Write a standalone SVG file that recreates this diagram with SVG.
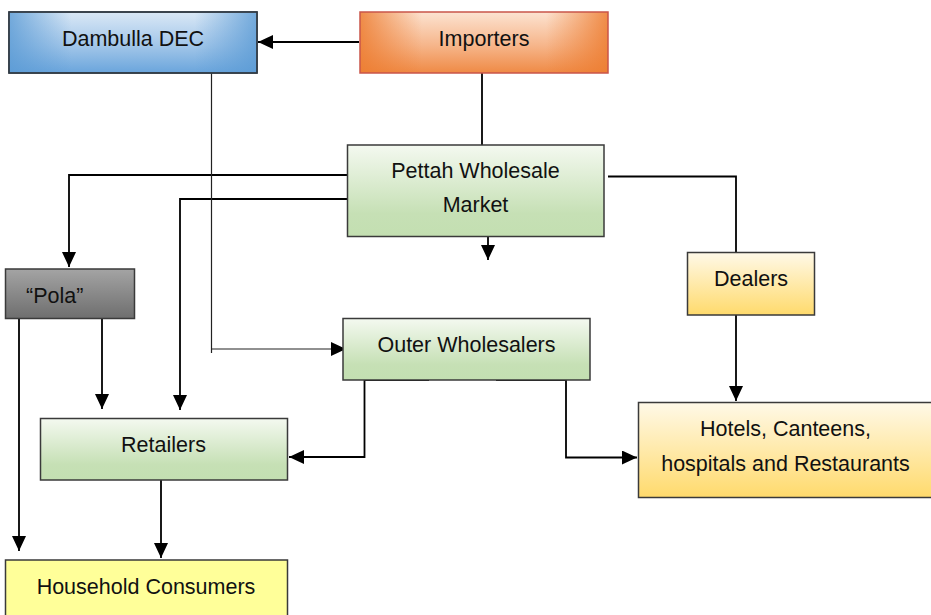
<svg xmlns="http://www.w3.org/2000/svg" width="931" height="615" viewBox="0 0 931 615">
<defs>
<style>
.box{stroke:#3a3a3a;stroke-width:1.5}
.ov{stroke:none}
.lbl{font-family:"Liberation Sans",Arial,sans-serif;font-size:21.5px;fill:#111;text-anchor:middle}
.con{fill:none;stroke:#000;stroke-width:1.8}
.thin{fill:none;stroke:#222;stroke-width:1.2}
</style>
<marker id="ah" markerUnits="userSpaceOnUse" markerWidth="15" markerHeight="14" refX="15" refY="7" orient="auto">
<path d="M0,0 L15,7 L0,14 Z" fill="#000"/>
</marker>
<linearGradient id="blueV" x1="0" y1="0" x2="0" y2="1">
<stop offset="0" stop-color="#dae8f6"/><stop offset="0.55" stop-color="#a2c6e9"/><stop offset="1" stop-color="#6aa5dc"/>
</linearGradient>
<linearGradient id="blueH" x1="0" y1="0" x2="1" y2="0">
<stop offset="0" stop-color="#5b9bd5" stop-opacity="1"/><stop offset="0.25" stop-color="#5b9bd5" stop-opacity="0"/><stop offset="0.75" stop-color="#5b9bd5" stop-opacity="0"/><stop offset="1" stop-color="#5b9bd5" stop-opacity="1"/>
</linearGradient>
<linearGradient id="orV" x1="0" y1="0" x2="0" y2="1">
<stop offset="0" stop-color="#fce3d1"/><stop offset="0.55" stop-color="#f6b58a"/><stop offset="1" stop-color="#ef8a45"/>
</linearGradient>
<linearGradient id="orH" x1="0" y1="0" x2="1" y2="0">
<stop offset="0" stop-color="#ed7d31" stop-opacity="1"/><stop offset="0.25" stop-color="#ed7d31" stop-opacity="0"/><stop offset="0.75" stop-color="#ed7d31" stop-opacity="0"/><stop offset="1" stop-color="#ed7d31" stop-opacity="1"/>
</linearGradient>
<linearGradient id="grn" x1="0" y1="0" x2="0" y2="1">
<stop offset="0" stop-color="#f4f9f0"/><stop offset="0.75" stop-color="#c6e0b5"/><stop offset="1" stop-color="#c3dfb1"/>
</linearGradient>
<linearGradient id="yel" x1="0" y1="0" x2="0" y2="1">
<stop offset="0" stop-color="#fff9e8"/><stop offset="1" stop-color="#ffda6c"/>
</linearGradient>
<linearGradient id="gry" x1="0" y1="0" x2="0" y2="1">
<stop offset="0" stop-color="#a4a4a4"/><stop offset="1" stop-color="#6e6e6e"/>
</linearGradient>
</defs>
<rect width="931" height="615" fill="#fff"/>

<g id="connectors">
<path class="con" d="M359,42 H258" marker-end="url(#ah)"/>
<path class="con" d="M482,73 V145"/>
<path class="con" d="M347,175 H69 V267" marker-end="url(#ah)"/>
<path class="con" d="M347,199 H180 V410" marker-end="url(#ah)"/>
<path class="con" d="M488,237 V260" marker-end="url(#ah)"/>
<path class="con" d="M608,176.5 H736 V252"/>
<path class="con" d="M736,315 V401" marker-end="url(#ah)"/>
<path class="thin" d="M211.5,73 V353"/>
<path class="thin" d="M211.5,349 H346" marker-end="url(#ah)"/>
<path class="con" d="M102,318 V409" marker-end="url(#ah)"/>
<path class="con" d="M19,318 V551" marker-end="url(#ah)"/>
<path class="con" d="M429,380 H364.5 V457 H289" marker-end="url(#ah)"/>
<path class="con" d="M496,380 H566 V457.5 H637" marker-end="url(#ah)"/>
<path class="con" d="M161,480 V558" marker-end="url(#ah)"/>
</g>

<g id="dambulla">
<rect class="box" x="9" y="12" width="248" height="61" fill="url(#blueV)"/>
<rect class="ov" x="9.75" y="12.75" width="246.5" height="59.5" fill="url(#blueH)" opacity="0.8"/>
<rect x="9" y="12" width="248" height="61" fill="none" stroke="#2e3a46" stroke-width="1.5"/>
<text class="lbl" x="133" y="46">Dambulla DEC</text>
</g>

<g id="importers">
<rect x="360" y="12" width="248" height="61" fill="url(#orV)"/>
<rect class="ov" x="360" y="12" width="248" height="61" fill="url(#orH)" opacity="0.85"/>
<rect x="360" y="12" width="248" height="61" fill="none" stroke="#c9554a" stroke-width="1.5"/>
<text class="lbl" x="484" y="46">Importers</text>
</g>

<g id="pettah">
<rect class="box" x="347.5" y="145" width="256.5" height="91.5" fill="url(#grn)"/>
<text class="lbl" x="475.5" y="178">Pettah Wholesale</text>
<text class="lbl" x="475.5" y="212">Market</text>
</g>

<g id="pola">
<rect class="box" x="5.5" y="269" width="129" height="49.5" fill="url(#gry)"/>
<text class="lbl" x="26" y="303" style="text-anchor:start">“Pola”</text>
</g>

<g id="dealers">
<rect class="box" x="687.5" y="252.5" width="127" height="62.5" fill="url(#yel)"/>
<text class="lbl" x="751" y="286">Dealers</text>
</g>

<g id="outer">
<rect class="box" x="343" y="318.5" width="247" height="61.5" fill="url(#grn)"/>
<text class="lbl" x="466.5" y="352">Outer Wholesalers</text>
</g>

<g id="retailers">
<rect class="box" x="40.5" y="418.5" width="247" height="61.5" fill="url(#grn)"/>
<text class="lbl" x="163.5" y="452">Retailers</text>
</g>

<g id="hotels">
<rect class="box" x="638.5" y="402.5" width="300" height="95" fill="url(#yel)"/>
<text class="lbl" x="785.5" y="436">Hotels, Canteens,</text>
<text class="lbl" x="785.5" y="471">hospitals and Restaurants</text>
</g>

<g id="household">
<rect class="box" x="5.5" y="560" width="282" height="62" fill="#ffff99"/>
<text class="lbl" x="146" y="593.5">Household Consumers</text>
</g>
</svg>
